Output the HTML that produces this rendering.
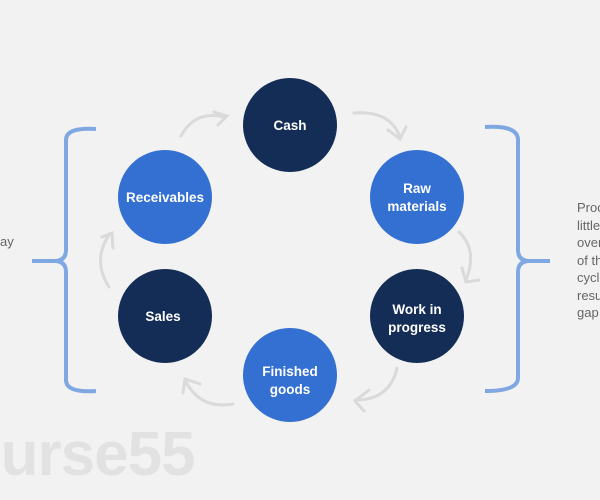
<!DOCTYPE html>
<html><head><style>
body{margin:0;width:600px;height:500px;background:#f2f2f2;overflow:hidden;position:relative;font-family:"Liberation Sans",sans-serif}
.wm{position:absolute;left:-80px;top:420px;font-size:62px;line-height:70px;font-weight:bold;color:#e2e2e2;letter-spacing:-1px;white-space:nowrap}
.r{position:absolute;left:577px;top:199px;width:23px;overflow:hidden;font-size:13px;line-height:17.5px;color:#666;white-space:nowrap}
.l{position:absolute;left:0;top:234px;font-size:13px;color:#666}
</style></head><body>
<div class="wm">Course55</div>
<div class="l">ay</div>
<div class="r">Process<br>little<br>overlap<br>of the<br>cycle<br>result<br>gap</div>
<svg width="600" height="500" style="position:absolute;left:0;top:0">
<g fill="none" stroke="#7fa8e3" stroke-width="4">
<path d="M96,129 Q66,127 66,140 L66,250 Q66,260 56,261 L32,261 M56,261 Q66,262 66,272 L66,380 Q66,393 96,391"/>
<path d="M485,127 Q518,125 518,140 L518,250 Q518,260 528,261 L550,261 M528,261 Q518,262 518,272 L518,378 Q518,391 485,391"/>
</g>
<g fill="none" stroke="#dadada" stroke-width="3" stroke-linecap="round">
<path d="M181,136 Q195,110 224,117"/><path d="M214,112 L227,116 L218,125"/>
<path d="M354,113 Q390,110 400,137"/><path d="M388,130 L400,139 L406,127"/>
<path d="M459,232 Q478,250 466,280"/><path d="M462,268 L466,282 L479,280"/>
<path d="M397,368 Q390,400 355,400"/><path d="M369,390 L355,401 L364,411"/>
<path d="M233,404 Q200,410 185,380"/><path d="M183,393 L185,379 L200,384"/>
<path d="M109,287 Q92,260 109,235"/><path d="M102,237 L112,233 L113,248"/>
</g>
<g font-family="Liberation Sans,sans-serif" font-weight="bold" font-size="13.5" fill="#fff" text-anchor="middle">
<circle cx="290" cy="125" r="47" fill="#142d56"/><text x="290" y="130">Cash</text>
<circle cx="165" cy="197" r="47" fill="#3370d2"/><text x="165" y="202">Receivables</text>
<circle cx="417" cy="197" r="47" fill="#3370d2"/><text x="417" y="193">Raw</text><text x="417" y="211">materials</text>
<circle cx="165" cy="316" r="47" fill="#142d56"/><text x="163" y="321">Sales</text>
<circle cx="417" cy="316" r="47" fill="#142d56"/><text x="417" y="314">Work in</text><text x="417" y="332">progress</text>
<circle cx="290" cy="375" r="47" fill="#3370d2"/><text x="290" y="376">Finished</text><text x="290" y="394">goods</text>
</g>
</svg>
</body></html>
